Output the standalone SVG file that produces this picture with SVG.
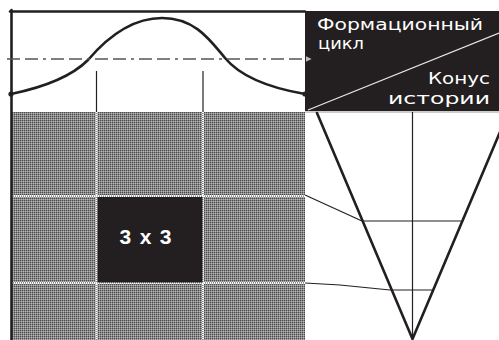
<svg xmlns="http://www.w3.org/2000/svg" width="499" height="340" viewBox="0 0 499 340">
<style>
.lbl{font-family:"DejaVu Sans","Liberation Sans",sans-serif;font-size:16.5px;fill:#ffffff}
.num{font-family:"Liberation Sans",Arial,sans-serif;font-size:21px;font-weight:bold;fill:#ffffff}
.thick{stroke:#231f20;stroke-width:2.6;fill:none;stroke-linecap:round;stroke-linejoin:round}
.thin{stroke:#231f20;stroke-width:1.2;fill:none}
.gridln{stroke:#ffffff;stroke-width:2;stroke-dasharray:1 1;fill:none}
</style>
<defs>
<pattern id="dots" width="2" height="2" patternUnits="userSpaceOnUse">
<rect width="2" height="2" fill="#8a8a8a"/>
<rect width="1" height="1" fill="#4a4a4a"/>
<rect x="1" y="1" width="1" height="1" fill="#b5b5b5"/>
</pattern>
<marker id="arr" viewBox="0 0 10 10" refX="9" refY="5" markerWidth="4" markerHeight="4" orient="auto" markerUnits="strokeWidth">
<path d="M0,0 L10,5 L0,10 z" fill="#bbbbbb"/>
</marker>
</defs>
<rect width="499" height="340" fill="#ffffff"/>

<g id="grid">
<rect x="12" y="112" width="293" height="228" fill="url(#dots)"/>
<line class="gridln" x1="96.5" y1="112" x2="96.5" y2="340"/>
<line class="gridln" x1="203" y1="112" x2="203" y2="340"/>
<line class="gridln" x1="12" y1="196" x2="305" y2="196"/>
<line class="gridln" x1="12" y1="283" x2="305" y2="283"/>
</g>

<g id="cell-3x3">
<rect x="97.5" y="197" width="105" height="85.5" fill="#231f20"/>
<text class="num" x="119.5" y="243.5" textLength="52" lengthAdjust="spacing">3 x 3</text>
</g>

<g id="label-box">
<rect x="305" y="11" width="194" height="100" fill="#231f20"/>
<line x1="305" y1="112" x2="499" y2="112" stroke="#bbbbbb" stroke-width="1.5"/>
<line x1="308" y1="110" x2="499" y2="33" stroke="#e8e8e8" stroke-width="1.2"/>
<text class="lbl" x="317" y="29.5" textLength="166" lengthAdjust="spacingAndGlyphs">Формационный</text>
<text class="lbl" x="318" y="49" textLength="46" lengthAdjust="spacingAndGlyphs">цикл</text>
<text class="lbl" x="428" y="84" textLength="62" lengthAdjust="spacingAndGlyphs">Конус</text>
<text class="lbl" x="388" y="103.5" textLength="102" lengthAdjust="spacingAndGlyphs">истории</text>
</g>

<g id="cycle-chart">
<line class="thick" x1="10" y1="11.5" x2="305" y2="11.5" stroke-linecap="butt"/>
<line class="thick" x1="11.5" y1="10" x2="11.5" y2="340" stroke-linecap="butt"/>
<line class="thin" x1="96.5" y1="71" x2="96.5" y2="112"/>
<line class="thin" x1="203" y1="71" x2="203" y2="112"/>
<path class="thick" d="M11,94 C40,88 70,78 88,60 C105,40 130,18 162,18 C195,18 210,40 225,58 C240,76 270,88 305,94"/>
<circle cx="11" cy="94" r="2.6" fill="#231f20"/>
<circle cx="305" cy="94" r="2.6" fill="#231f20"/>
</g>

<g id="cone">
<polyline class="thick" points="317,113 412.5,339 508,113"/>
<line class="thin" x1="412.5" y1="112" x2="412.5" y2="340"/>
<line class="thin" x1="362" y1="221" x2="461" y2="221"/>
<line class="thin" x1="390" y1="290" x2="433" y2="290"/>
</g>

<g id="connectors">
<line x1="7" y1="59" x2="311" y2="59" stroke="#555555" stroke-width="1.5" stroke-dasharray="13 5 13 5 3 5" marker-end="url(#arr)"/>
<polyline class="thin" points="305,195 362,221"/>
<polyline class="thin" points="305,283 340,285 390,290"/>
</g>
</svg>
